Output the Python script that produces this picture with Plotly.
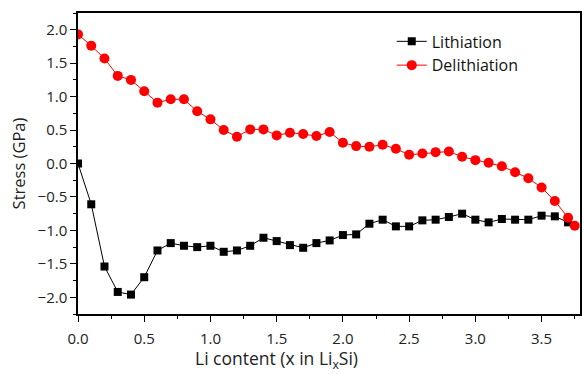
import plotly.graph_objects as go

x_lith = [round(0.1 * i, 1) for i in range(38)]
y_lith = [0.0, -0.61, -1.54, -1.92, -1.96, -1.70, -1.30, -1.19, -1.23, -1.25, -1.23,
          -1.32, -1.30, -1.23, -1.11, -1.16, -1.22, -1.26, -1.19, -1.15, -1.07, -1.06,
          -0.90, -0.84, -0.94, -0.94, -0.85, -0.84, -0.80, -0.75, -0.84, -0.88, -0.83,
          -0.84, -0.84, -0.78, -0.79, -0.88]

x_delith = [round(0.1 * i, 1) for i in range(38)] + [3.75]
y_delith = [1.93, 1.76, 1.57, 1.31, 1.25, 1.08, 0.91, 0.96, 0.96, 0.78, 0.66,
            0.50, 0.40, 0.51, 0.51, 0.42, 0.46, 0.44, 0.41, 0.47, 0.31, 0.26,
            0.25, 0.28, 0.22, 0.13, 0.15, 0.17, 0.18, 0.10, 0.05, 0.01, -0.04,
            -0.13, -0.22, -0.36, -0.56, -0.81, -0.93]

x_title = "Li content (x in Li<sub>x</sub>Si)"
y_title = "Stress (GPa)"

font_family = "Open Sans, Lato, sans-serif"

fig = go.Figure()
fig.add_trace(go.Scatter(
    x=x_lith, y=y_lith, mode="lines+markers", name="Lithiation",
    line=dict(color="#000000", width=1),
    marker=dict(symbol="square", size=8, color="#000000"),
))
fig.add_trace(go.Scatter(
    x=x_delith, y=y_delith, mode="lines+markers", name="Delithiation",
    line=dict(color="#ff0000", width=1),
    marker=dict(symbol="circle", size=10, color="#ff0000"),
))

axis_common = dict(
    showline=True, linecolor="#000000", linewidth=1.5, mirror=True,
    ticks="outside", ticklen=6, tickwidth=1, tickcolor="#000000",
    showgrid=False, zeroline=False,
    tickfont=dict(family=font_family, size=15, color="#222222"),
)

fig.update_layout(
    width=584, height=374,
    margin=dict(l=78, r=2, t=13, b=60),
    plot_bgcolor="white", paper_bgcolor="white",
    font=dict(family=font_family, color="#222222"),
    xaxis=dict(range=[0, 3.79], dtick=0.5, tickformat=".1f", ticklabelstandoff=4,
               minor=dict(ticks="outside", ticklen=3, dtick=0.25, tickcolor="#000000"),
               **axis_common),
    yaxis=dict(range=[-2.25, 2.25], dtick=0.5, tickformat=".1f",
               minor=dict(ticks="outside", ticklen=3, dtick=0.25, tickcolor="#000000"),
               title=dict(text=y_title, font=dict(size=16.5), standoff=8),
               **axis_common),
    legend=dict(x=0.625, y=0.962, xanchor="left", yanchor="top",
                bgcolor="rgba(0,0,0,0)", font=dict(size=16, color="#111111"),
                tracegroupgap=0, itemwidth=30),
    showlegend=True,
    annotations=[dict(text=x_title, xref="paper", yref="paper",
                      x=(277 - 78) / 504, y=-45 / 301, xanchor="center", yanchor="middle",
                      showarrow=False, font=dict(size=17.5, color="#222222"))],
)

fig.write_html("out.html")
